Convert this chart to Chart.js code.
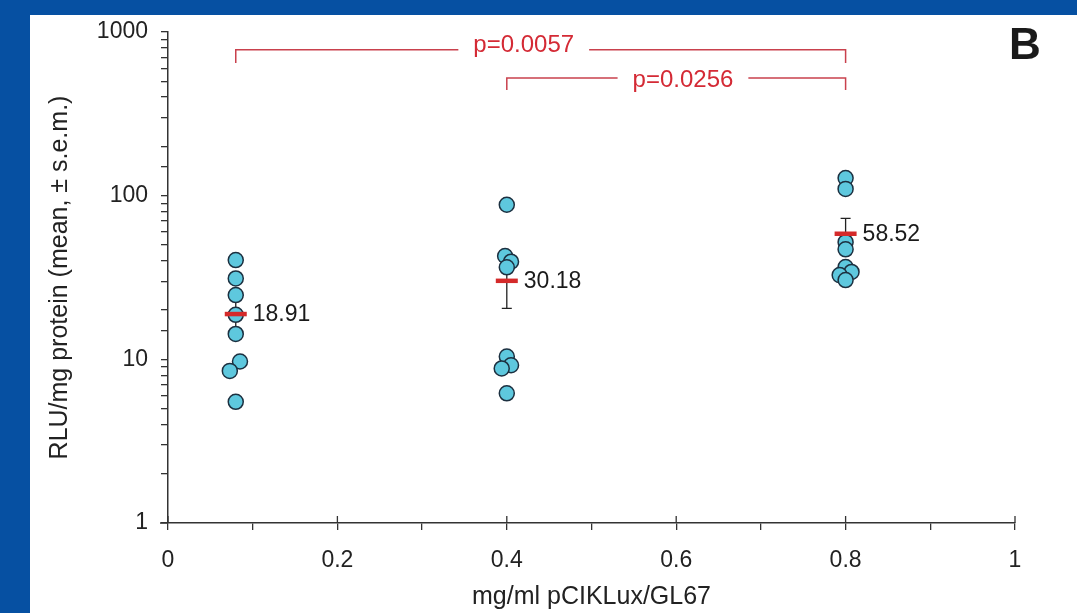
<!DOCTYPE html>
<html>
<head>
<meta charset="utf-8">
<script src="https://cdn.jsdelivr.net/npm/chart.js@4"></script>
<style>
  html, body { margin: 0; padding: 0; background: #0650a2; }
  #wrap { position: relative; width: 1077px; height: 613px; }
</style>
</head>
<body>
<div id="wrap"><canvas id="chart" width="1077" height="613"></canvas></div>
<script>
// Data
const groupX = [0.08, 0.4, 0.8];
const groupMeans = [18.91, 30.18, 58.52];
const groupSem = [4.3, 9.7, 14.1];

const g1x = [0.08, 0.08, 0.08, 0.08, 0.08, 0.085, 0.073, 0.08];
const g1y = [40.4, 31.2, 24.7, 18.7, 14.3, 9.7, 8.5, 5.5];
const g2x = [0.4, 0.398, 0.405, 0.4, 0.4, 0.405, 0.394, 0.4];
const g2y = [88, 42.8, 39.5, 36.5, 10.4, 9.2, 8.8, 6.2];
const g3x = [0.8, 0.8, 0.8, 0.8, 0.8, 0.807, 0.793, 0.8];
const g3y = [128, 110, 52, 47, 36.6, 34.2, 32.7, 30.5];

const xTickLabels = ['0', '0.2', '0.4', '0.6', '0.8', '1'];
const yTickLabels = ['1', '10', '100', '1000'];

// significance brackets: from, to, line level, foot level, label x, label
const bracketFrom = [0.08, 0.4];
const bracketTo = [0.8, 0.8];
const bracketTop = [780, 523];
const bracketFoot = [646, 442];
const bracketLabelX = [0.42, 0.608];
const bracketLabels = ['p=0.0057', 'p=0.0256'];
const bracketTextShift = [-4, 2];

const panelLabel = 'B';

// Helpers
const toPoints = (xs, ys) => xs.map((x, i) => ({ x: x, y: ys[i] }));
const FONT = '"Liberation Sans", Arial, Helvetica, sans-serif';

// Plugins
const backgroundPlugin = {
    id: 'panelBg',
    beforeDraw(chart) {
        const { ctx, width, height } = chart;
        ctx.save();
        ctx.fillStyle = '#0650a2';
        ctx.fillRect(0, 0, width, height);
        ctx.fillStyle = '#ffffff';
        ctx.fillRect(30, 15, width - 30, height - 15);
        ctx.restore();
    }
};

const errorBarPlugin = {
    id: 'errorBars',
    beforeDatasetsDraw(chart) {
        const { ctx, scales: { x, y } } = chart;
        ctx.save();
        ctx.strokeStyle = '#222';
        ctx.lineWidth = 1.3;
        groupX.forEach((gx, i) => {
            const px = x.getPixelForValue(gx);
            const lo = y.getPixelForValue(groupMeans[i] - groupSem[i]);
            const hi = y.getPixelForValue(groupMeans[i] + groupSem[i]);
            ctx.beginPath();
            ctx.moveTo(px, lo); ctx.lineTo(px, hi);
            ctx.moveTo(px - 5, lo); ctx.lineTo(px + 5, lo);
            ctx.moveTo(px - 5, hi); ctx.lineTo(px + 5, hi);
            ctx.stroke();
        });
        ctx.restore();
    }
};

const annotationPlugin = {
    id: 'annotations',
    afterDraw(chart) {
        const { ctx, scales: { x, y } } = chart;
        ctx.save();

        // extra tick marks: major x ticks cross the axis
        ctx.strokeStyle = '#333';
        ctx.lineWidth = 1.3;
        const axisY = y.getPixelForValue(1);
        ctx.beginPath();
        xTickLabels.forEach(t => {
            const px = x.getPixelForValue(parseFloat(t));
            ctx.moveTo(px, axisY); ctx.lineTo(px, axisY - 7);
        });
        ctx.moveTo(x.getPixelForValue(0) - 8, axisY);
        ctx.lineTo(x.getPixelForValue(0), axisY);
        ctx.stroke();

        // mean value labels
        ctx.fillStyle = '#1a1a1a';
        ctx.font = '23px ' + FONT;
        ctx.textAlign = 'left';
        ctx.textBaseline = 'middle';
        groupX.forEach((gx, i) => {
            ctx.fillText(groupMeans[i].toFixed(2), x.getPixelForValue(gx) + 17, y.getPixelForValue(groupMeans[i]) + 1);
        });

        // brackets
        ctx.font = '24px ' + FONT;
        ctx.textAlign = 'center';
        bracketLabels.forEach((label, i) => {
            const x1 = x.getPixelForValue(bracketFrom[i]);
            const x2 = x.getPixelForValue(bracketTo[i]);
            const top = y.getPixelForValue(bracketTop[i]);
            const foot = y.getPixelForValue(bracketFoot[i]);
            const lx = x.getPixelForValue(bracketLabelX[i]);
            const half = ctx.measureText(label).width / 2 + 15;
            ctx.strokeStyle = '#c9414d';
            ctx.lineWidth = 1.5;
            ctx.beginPath();
            ctx.moveTo(x1, foot); ctx.lineTo(x1, top); ctx.lineTo(lx - half, top);
            ctx.moveTo(lx + half, top); ctx.lineTo(x2, top); ctx.lineTo(x2, foot);
            ctx.stroke();
            ctx.fillStyle = '#d42a35';
            ctx.fillText(label, lx, top + bracketTextShift[i]);
        });

        // panel letter
        ctx.fillStyle = '#1a1a1a';
        ctx.font = 'bold 44px ' + FONT;
        ctx.fillText(panelLabel, 1025, 47);
        ctx.restore();
    }
};

// Chart
const pointStyle = {
    type: 'scatter',
    pointRadius: 7.5,
    pointBackgroundColor: '#5ec8de',
    pointBorderColor: '#1c3040',
    pointBorderWidth: 1.5
};

new Chart(document.getElementById('chart').getContext('2d'), {
    type: 'scatter',
    data: {
        datasets: [
            {
                label: 'mean',
                data: toPoints(groupX, groupMeans),
                pointStyle: 'line',
                pointRadius: 11,
                pointBorderColor: '#d42a2a',
                pointBorderWidth: 4.5
            },
            { label: '0.08', data: toPoints(g1x, g1y), ...pointStyle },
            { label: '0.4', data: toPoints(g2x, g2y), ...pointStyle },
            { label: '0.8', data: toPoints(g3x, g3y), ...pointStyle }
        ]
    },
    options: {
        responsive: false,
        animation: false,
        events: [],
        layout: { padding: { left: 0, top: 32, right: 62, bottom: 0 } },
        plugins: {
            legend: { display: false },
            tooltip: { enabled: false }
        },
        scales: {
            x: {
                type: 'linear',
                min: 0,
                max: 1,
                border: { display: true, color: '#333', width: 1.5 },
                grid: { drawOnChartArea: false, tickLength: 7, color: '#333', lineWidth: 1.3 },
                ticks: {
                    stepSize: 0.1,
                    autoSkip: false,
                    maxRotation: 0,
                    padding: 17,
                    color: '#222',
                    font: { family: FONT, size: 23 },
                    callback: (v, i) => (i % 2 === 0 ? xTickLabels[i / 2] : '')
                },
                title: {
                    display: true,
                    text: 'mg/ml pCIKLux/GL67',
                    color: '#222',
                    font: { family: FONT, size: 25 },
                    padding: { top: 0, bottom: 1 }
                },
                afterFit: (s) => { s.height = 90; s.paddingLeft = 0; s.paddingRight = 0; }
            },
            y: {
                type: 'logarithmic',
                min: 1,
                max: 1000,
                border: { display: true, color: '#333', width: 1.5 },
                grid: { drawOnChartArea: false, tickLength: 7, color: '#333', lineWidth: 1.3 },
                ticks: {
                    autoSkip: false,
                    padding: 13,
                    color: '#222',
                    font: { family: FONT, size: 23 },
                    callback: (v) => (yTickLabels.includes(String(v)) ? String(v) : '')
                },
                title: {
                    display: true,
                    text: 'RLU/mg protein (mean, ± s.e.m.)',
                    color: '#222',
                    font: { family: FONT, size: 25 },
                    padding: { top: 45, bottom: 0 }
                },
                afterFit: (s) => { s.width = 168; s.paddingTop = 0; s.paddingBottom = 0; }
            }
        }
    },
    plugins: [backgroundPlugin, errorBarPlugin, annotationPlugin]
});
</script>
</body>
</html>
